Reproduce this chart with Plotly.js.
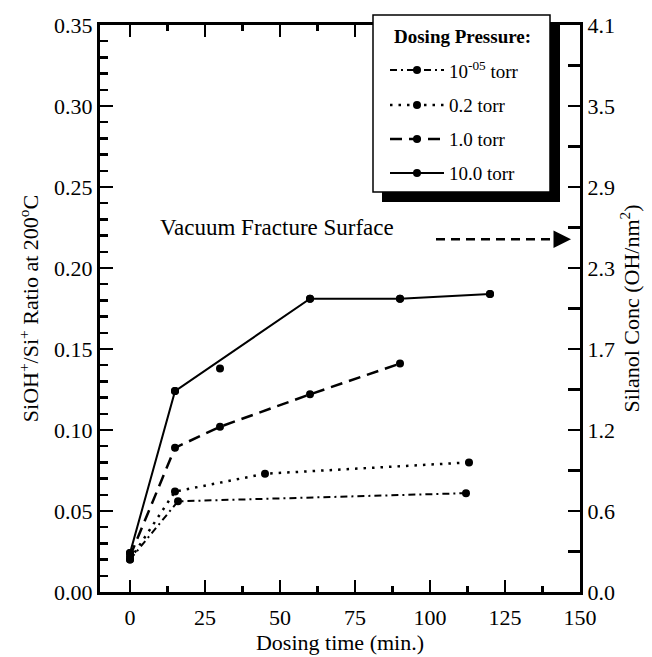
<!DOCTYPE html>
<html>
<head>
<meta charset="utf-8">
<script src="https://cdn.plot.ly/plotly-3.0.1.min.js"></script>
<style>html,body{margin:0;padding:0;background:#fff;}#chart{width:652px;height:657px;}</style>
</head>
<body>
<div id="chart"></div>
<script>
// ---- data ----
const seriesNames = ["10<sup>-05</sup> torr", "0.2 torr", "1.0 torr", "10.0 torr"];
const legendTitle = "<b>Dosing Pressure:</b>";

const timeE5 = [0, 16, 112];
const ratioE5 = [0.020, 0.056, 0.061];

const time02 = [0, 15, 45, 113];
const ratio02 = [0.020, 0.062, 0.073, 0.080];

const time1 = [0, 15, 30, 60, 90];
const ratio1 = [0.022, 0.089, 0.102, 0.122, 0.141];

// 10 torr: measured points, and the drawn trend line through them
const time10 = [0, 15, 30, 60, 90, 120];
const ratio10 = [0.024, 0.124, 0.138, 0.181, 0.181, 0.184];
const lineTime10 = [0, 15, 60, 90, 120];
const lineRatio10 = [0.024, 0.124, 0.181, 0.181, 0.184];

const leftTickFormat = ".2f";
const rightTickLabels = ["0.0", "0.6", "1.2", "1.7", "2.3", "2.9", "3.5", "4.1"];
const rightMax = 4.1;
const vacuumFractureConc = 2.55; // OH/nm^2, right axis
const vacuumLabel = "Vacuum Fracture Surface";

// ---- styling ----
const FONT = "Liberation Serif, Times New Roman, serif";
const mk = {color: "black", size: 8, symbol: "circle"};
const dashes = ["7px,4px,2px,4px", "2.5px,6px", "12px,7px", "solid"];
const widths = [2, 2.5, 2.5, 2];

const traces = [
  {x: timeE5, y: ratioE5, name: seriesNames[0], mode: "lines+markers",
   line: {color: "black", width: widths[0], dash: dashes[0]}, marker: mk},
  {x: time02, y: ratio02, name: seriesNames[1], mode: "lines+markers",
   line: {color: "black", width: widths[1], dash: dashes[1]}, marker: mk},
  {x: time1, y: ratio1, name: seriesNames[2], mode: "lines+markers",
   line: {color: "black", width: widths[2], dash: dashes[2]}, marker: mk},
  {x: lineTime10, y: lineRatio10, name: seriesNames[3], mode: "lines+markers",
   line: {color: "black", width: widths[3]}, marker: mk},
  {x: time10, y: ratio10, mode: "markers", marker: mk, hoverinfo: "skip"},
  {x: [], y: [], yaxis: "y2", mode: "markers"}
];

const rightTickVals = rightTickLabels.map((_, i) => i * rightMax / (rightTickLabels.length - 1));
const rightMinorVals = rightTickVals.slice(1).map((v, i) => (v + rightTickVals[i]) / 2);

const tickFont = {family: FONT, size: 22, color: "black"};
const titleFont = {family: FONT, size: 22, color: "black"};

// pixel -> paper helpers (plot area: x 100..580, y 25..592)
const W = 652, H = 657, ML = 100, MR = 72, MT = 25, MB = 65;
const PW = W - ML - MR, PH = H - MT - MB;
const px = v => (v - ML) / PW;
const py = v => (H - MB - v) / PH;

// hand-drawn boxed legend with drop shadow
const legendShapes = [
  {type: "rect", xref: "paper", yref: "paper", x0: px(382), x1: px(560), y0: py(202), y1: py(25),
   fillcolor: "black", line: {width: 0}, layer: "above"},
  {type: "rect", xref: "paper", yref: "paper", x0: px(373), x1: px(550), y0: py(192), y1: py(15),
   fillcolor: "white", line: {color: "black", width: 1.5}, layer: "above"}
];
const legendAnn = [
  {xref: "paper", yref: "paper", x: px(462), y: py(36), text: legendTitle, showarrow: false,
   xanchor: "center", yanchor: "middle", font: {family: FONT, size: 19, color: "black"}}
];
const rowY = [70, 105, 139, 173];
seriesNames.forEach((name, i) => {
  legendShapes.push({type: "line", xref: "paper", yref: "paper", x0: px(390), x1: px(444),
    y0: py(rowY[i]), y1: py(rowY[i]), layer: "above",
    line: {color: "black", width: widths[i], dash: dashes[i]}});
  legendShapes.push({type: "circle", xref: "paper", yref: "paper", xsizemode: "pixel", ysizemode: "pixel",
    xanchor: px(417), yanchor: py(rowY[i]), x0: -4, x1: 4, y0: -4, y1: 4, layer: "above",
    fillcolor: "black", line: {color: "black", width: 0}});
  legendAnn.push({xref: "paper", yref: "paper", x: px(447), y: py(rowY[i]), text: name, showarrow: false,
    xanchor: "left", yanchor: "middle", font: {family: FONT, size: 19, color: "black"}});
});

const layout = {
  width: W, height: H,
  margin: {l: ML, r: MR, t: MT, b: MB},
  paper_bgcolor: "white", plot_bgcolor: "white",
  font: {family: FONT, color: "black"},
  showlegend: false,
  xaxis: {
    range: [-10, 150], tick0: 0, dtick: 25,
    ticks: "inside", ticklen: 12, tickwidth: 2.5, tickcolor: "black",
    minor: {dtick: 12.5, tick0: 0, ticks: "inside", ticklen: 6, tickwidth: 2.5, tickcolor: "black"},
    showline: true, linewidth: 3, linecolor: "black", mirror: "ticks",
    showgrid: false, zeroline: false,
    tickfont: tickFont, ticklabelstandoff: 4,
    title: {text: "Dosing time (min.)", font: titleFont, standoff: 4}
  },
  yaxis: {
    range: [0, 0.35], tick0: 0, dtick: 0.05, tickformat: leftTickFormat,
    ticks: "inside", ticklen: 13, tickwidth: 2.5, tickcolor: "black",
    minor: {dtick: 0.01, tick0: 0, ticks: "inside", ticklen: 8, tickwidth: 2.5, tickcolor: "black"},
    showline: true, linewidth: 3, linecolor: "black",
    showgrid: false, zeroline: false,
    tickfont: tickFont,
    title: {text: "SiOH<sup>+</sup>/Si<sup>+</sup> Ratio at 200<sup>o</sup>C", font: titleFont, standoff: 10}
  },
  yaxis2: {
    overlaying: "y", side: "right", range: [0, rightMax],
    tickmode: "array", tickvals: rightTickVals, ticktext: rightTickLabels,
    ticks: "inside", ticklen: 12, tickwidth: 2.5, tickcolor: "black",
    minor: {tickmode: "array", tickvals: rightMinorVals, ticks: "inside", ticklen: 12, tickwidth: 2.5, tickcolor: "black"},
    showline: true, linewidth: 3, linecolor: "black",
    showgrid: false, zeroline: false,
    tickfont: tickFont,
    title: {text: "Silanol Conc (OH/nm<sup>2</sup>)", font: titleFont, standoff: 10}
  },
  shapes: [
    {type: "line", xref: "x", yref: "y2", x0: 102, x1: 143, y0: vacuumFractureConc, y1: vacuumFractureConc,
     line: {color: "black", width: 2.5, dash: "9px,6px"}}
  ].concat(legendShapes),
  annotations: [
    {xref: "x", yref: "y", x: 49, y: 0.225, text: vacuumLabel, showarrow: false,
     font: {family: FONT, size: 23, color: "black"}},
    {xref: "x", yref: "y2", x: 147, y: vacuumFractureConc, ax: -12, ay: 0, text: "",
     showarrow: true, arrowhead: 2, arrowsize: 1.4, arrowwidth: 2.5, arrowcolor: "black"}
  ].concat(legendAnn)
};

Plotly.newPlot("chart", traces, layout, {displayModeBar: false, staticPlot: true});
</script>
</body>
</html>
